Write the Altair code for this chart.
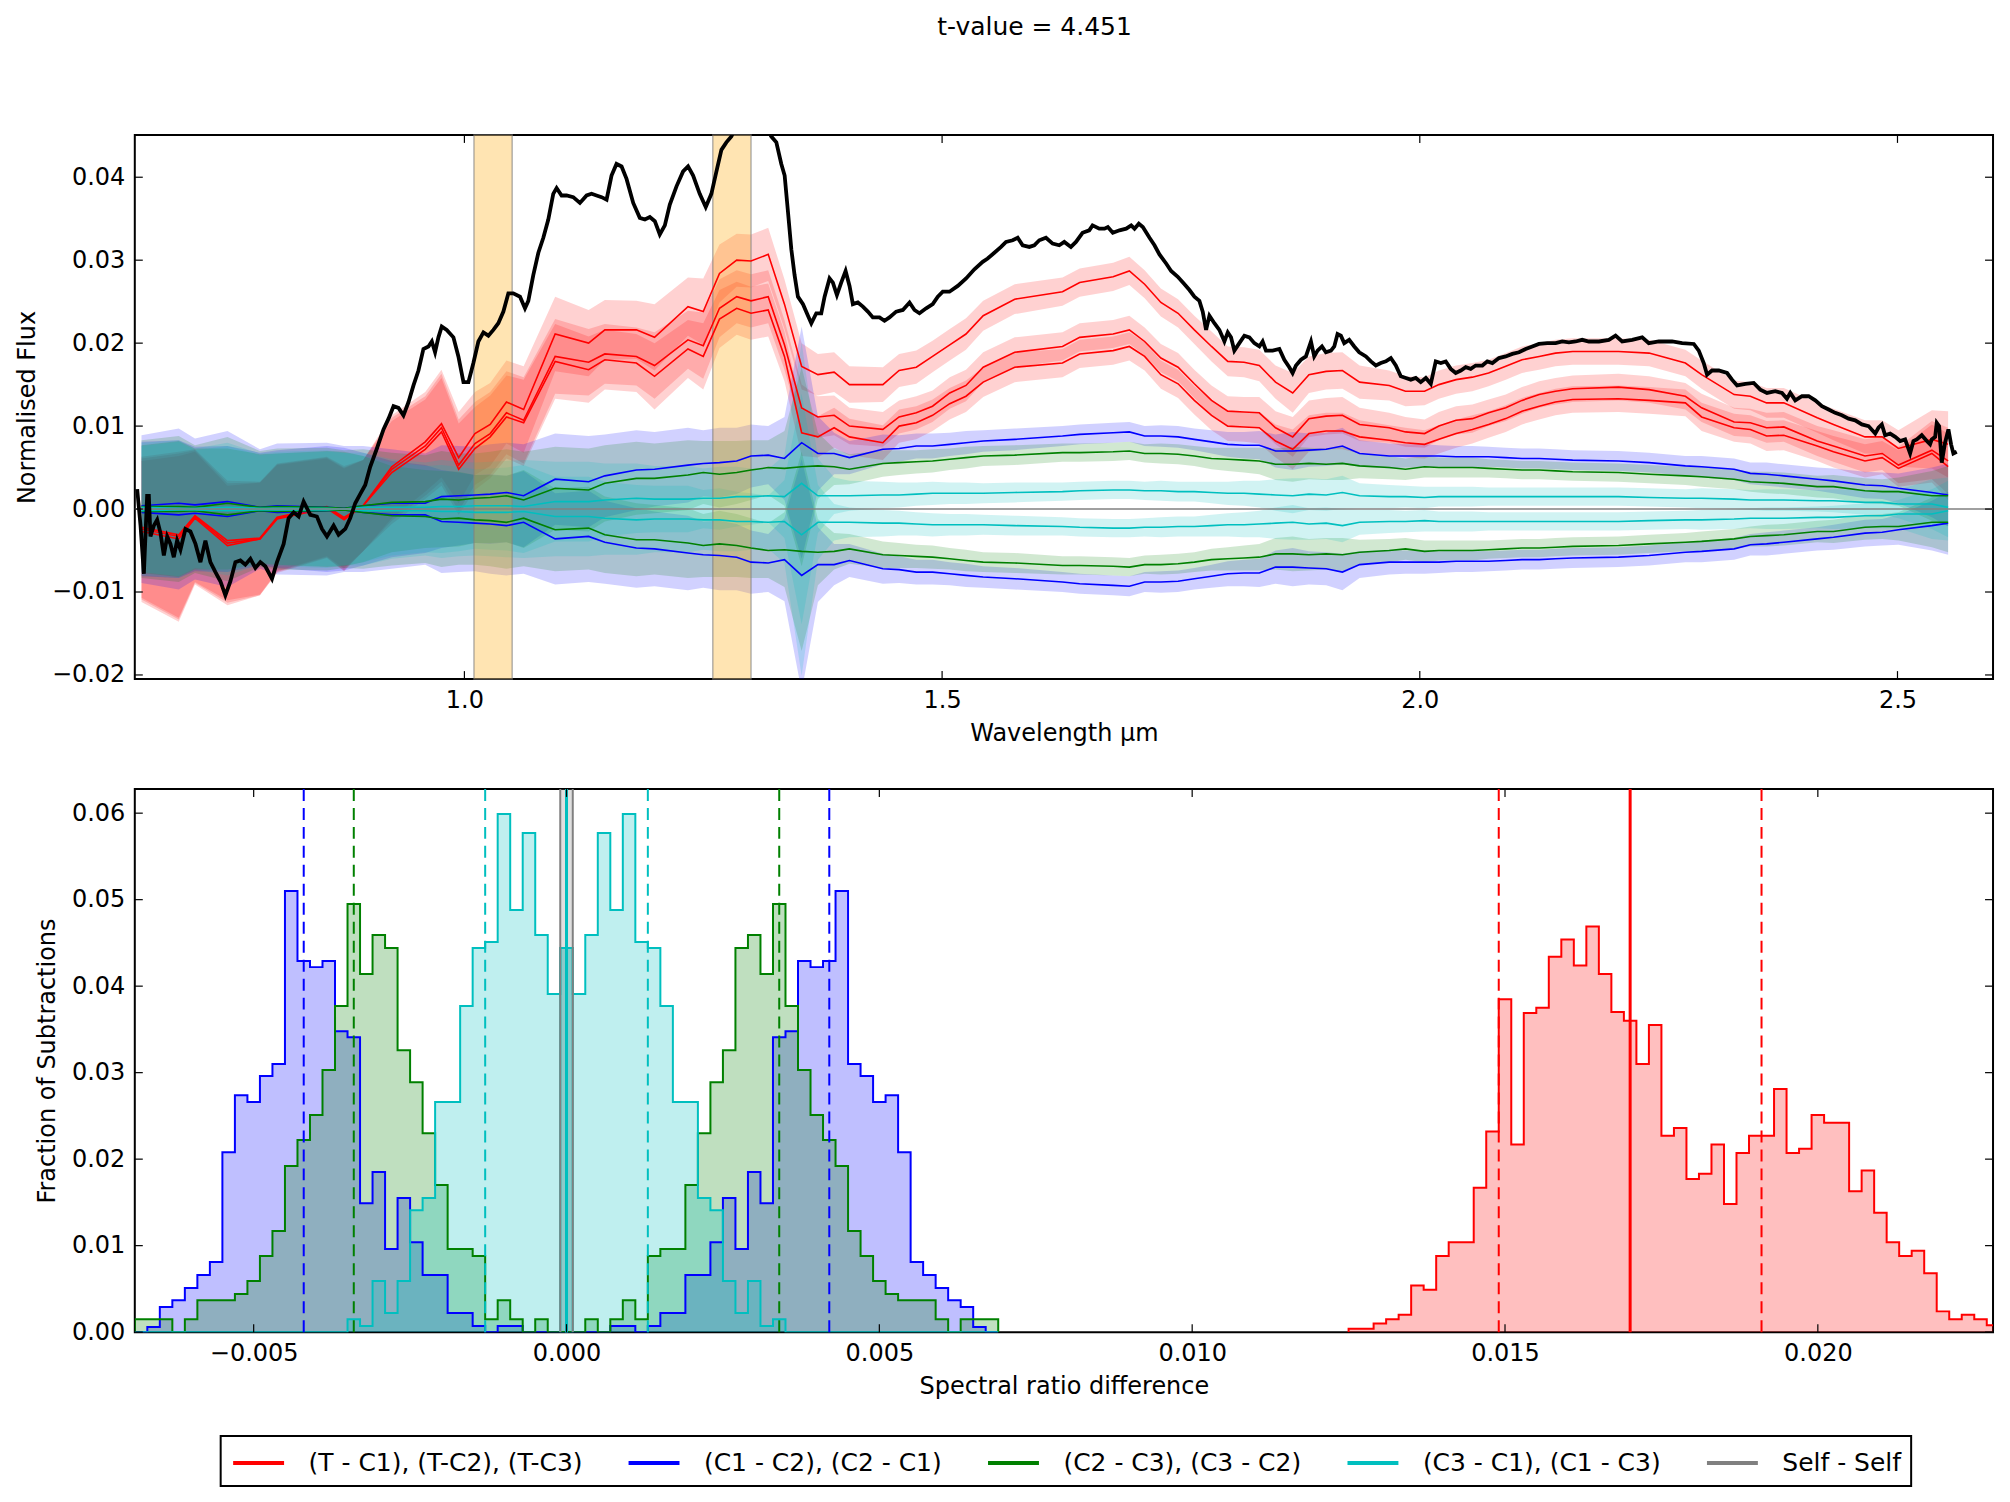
import altair as alt
import pandas as pd

FONT = "DejaVu Sans"
FS = 24
RED, BLUE, GREEN, CYAN, GREY = "#ff0000", "#0000ff", "#008000", "#00bfbf", "#808080"

# ---------------- observed target spectrum ----------------
spec_wl = [
    0.6575, 0.6610, 0.6645, 0.6679, 0.6697, 0.6714, 0.6749, 0.6784, 0.6819, 0.6854,
    0.6889, 0.6923, 0.6958, 0.6993, 0.7028, 0.7080, 0.7132, 0.7185, 0.7237, 0.7289,
    0.7341, 0.7394, 0.7446, 0.7498, 0.7551, 0.7603, 0.7655, 0.7707, 0.7760, 0.7812,
    0.7864, 0.7916, 0.7986, 0.8038, 0.8108, 0.8160, 0.8213, 0.8265, 0.8317, 0.8387,
    0.8456, 0.8509, 0.8561, 0.8631, 0.8683, 0.8753, 0.8805, 0.8857, 0.8909, 0.8962,
    0.9014, 0.9084, 0.9153, 0.9206, 0.9258, 0.9310, 0.9362, 0.9415, 0.9467, 0.9519,
    0.9571, 0.9624, 0.9659, 0.9693, 0.9728, 0.9763, 0.9815, 0.9885, 0.9937, 0.9990,
    1.0042, 1.0094, 1.0146, 1.0199, 1.0251, 1.0303, 1.0355, 1.0408, 1.0460, 1.0512,
    1.0582, 1.0634, 1.0669, 1.0721, 1.0774, 1.0826, 1.0878, 1.0930, 1.0965, 1.1017,
    1.1070, 1.1139, 1.1209, 1.1279, 1.1331, 1.1383, 1.1436, 1.1488, 1.1540, 1.1592,
    1.1645, 1.1697, 1.1767, 1.1836, 1.1889, 1.1941, 1.1993, 1.2045, 1.2098, 1.2150,
    1.2220, 1.2289, 1.2341, 1.2394, 1.2463, 1.2526, 1.2585, 1.2638, 1.2690, 1.2742,
    1.2794, 1.2900, 1.3050, 1.3213, 1.3265, 1.3317, 1.3352, 1.3387, 1.3422, 1.3456,
    1.3491, 1.3544, 1.3596, 1.3631, 1.3683, 1.3735, 1.3770, 1.3822, 1.3857, 1.3899,
    1.3944, 1.3990, 1.4031, 1.4066, 1.4118, 1.4171, 1.4223, 1.4275, 1.4345, 1.4397,
    1.4449, 1.4519, 1.4589, 1.4659, 1.4711, 1.4763, 1.4833, 1.4902, 1.4955, 1.5007,
    1.5077, 1.5164, 1.5251, 1.5338, 1.5425, 1.5477, 1.5547, 1.5617, 1.5669, 1.5739,
    1.5791, 1.5843, 1.5913, 1.5965, 1.6017, 1.6087, 1.6157, 1.6226, 1.6279, 1.6348,
    1.6401, 1.6470, 1.6540, 1.6575, 1.6645, 1.6700, 1.6735, 1.6787, 1.6857, 1.6927,
    1.6979, 1.7014, 1.7059, 1.7101, 1.7171, 1.7223, 1.7275, 1.7345, 1.7397, 1.7467,
    1.7537, 1.7589, 1.7641, 1.7693, 1.7728, 1.7763, 1.7798, 1.7850, 1.7902, 1.7955,
    1.7990, 1.8024, 1.8059, 1.8111, 1.8164, 1.8216, 1.8268, 1.8321, 1.8355, 1.8390,
    1.8460, 1.8530, 1.8582, 1.8634, 1.8669, 1.8704, 1.8756, 1.8808, 1.8861, 1.8895,
    1.8930, 1.8976, 1.9017, 1.9070, 1.9105, 1.9139, 1.9174, 1.9209, 1.9261, 1.9314,
    1.9366, 1.9436, 1.9488, 1.9540, 1.9592, 1.9645, 1.9697, 1.9749, 1.9801, 1.9854,
    1.9906, 1.9958, 2.0010, 2.0063, 2.0115, 2.0167, 2.0220, 2.0272, 2.0324, 2.0376,
    2.0429, 2.0481, 2.0533, 2.0585, 2.0655, 2.0707, 2.0760, 2.0829, 2.0899, 2.0969,
    2.1038, 2.1108, 2.1178, 2.1247, 2.1334, 2.1422, 2.1491, 2.1561, 2.1631, 2.1700,
    2.1770, 2.1875, 2.1979, 2.2049, 2.2118, 2.2223, 2.2328, 2.2397, 2.2502, 2.2641,
    2.2746, 2.2868, 2.2920, 2.2972, 2.3007, 2.3059, 2.3129, 2.3216, 2.3268, 2.3321,
    2.3408, 2.3495, 2.3564, 2.3634, 2.3721, 2.3791, 2.3843, 2.3878, 2.3930, 2.4000,
    2.4070, 2.4139, 2.4209, 2.4279, 2.4348, 2.4418, 2.4488, 2.4557, 2.4627, 2.4697,
    2.4767, 2.4801, 2.4836, 2.4871, 2.4923, 2.4976, 2.5028, 2.5080, 2.5132, 2.5167,
    2.5202, 2.5254, 2.5307, 2.5341, 2.5359, 2.5394, 2.5411, 2.5436, 2.5463, 2.5498,
    2.5533, 2.5561, 2.5585, 2.5620,
]
spec_flux = [
    0.0024, -0.0020, -0.0078, 0.0016, 0.0016, -0.0033, -0.0020, -0.0013, -0.0029, -0.0056,
    -0.0033, -0.0042, -0.0058, -0.0038, -0.0049, -0.0024, -0.0027, -0.0042, -0.0064, -0.0038,
    -0.0064, -0.0076, -0.0087, -0.0104, -0.0087, -0.0064, -0.0062, -0.0067, -0.0060, -0.0071,
    -0.0064, -0.0069, -0.0084, -0.0064, -0.0042, -0.0011, -0.0004, -0.0009, 0.0009, -0.0007,
    -0.0009, -0.0024, -0.0033, -0.0020, -0.0031, -0.0024, -0.0011, 0.0007, 0.0018, 0.0029,
    0.0051, 0.0073, 0.0096, 0.0109, 0.0124, 0.0122, 0.0113, 0.0129, 0.0149, 0.0167,
    0.0193, 0.0196, 0.0202, 0.0189, 0.0207, 0.0220, 0.0216, 0.0207, 0.0184, 0.0153,
    0.0153, 0.0176, 0.0202, 0.0213, 0.0209, 0.0216, 0.0224, 0.0238, 0.0260, 0.0260,
    0.0256, 0.0242, 0.0251, 0.0282, 0.0309, 0.0327, 0.0349, 0.0380, 0.0387, 0.0378,
    0.0378, 0.0376, 0.0369, 0.0378, 0.0380, 0.0378, 0.0376, 0.0373, 0.0402, 0.0416,
    0.0413, 0.0398, 0.0369, 0.0351, 0.0349, 0.0352, 0.0347, 0.0331, 0.0342, 0.0367,
    0.0389, 0.0407, 0.0413, 0.0402, 0.0380, 0.0364, 0.0380, 0.0407, 0.0433, 0.0442,
    0.0449, 0.0475, 0.0480, 0.0449, 0.0442, 0.0416, 0.0402, 0.0358, 0.0313, 0.0282,
    0.0256, 0.0247, 0.0233, 0.0224, 0.0236, 0.0236, 0.0256, 0.0278, 0.0273, 0.0258,
    0.0273, 0.0287, 0.0269, 0.0247, 0.0249, 0.0244, 0.0238, 0.0231, 0.0231, 0.0227,
    0.0231, 0.0238, 0.0240, 0.0249, 0.0240, 0.0236, 0.0242, 0.0247, 0.0256, 0.0262,
    0.0262, 0.0269, 0.0278, 0.0289, 0.0298, 0.0302, 0.0309, 0.0316, 0.0322, 0.0324,
    0.0327, 0.0318, 0.0316, 0.0318, 0.0324, 0.0327, 0.0320, 0.0318, 0.0322, 0.0316,
    0.0322, 0.0333, 0.0336, 0.0342, 0.0338, 0.0338, 0.0340, 0.0333, 0.0336, 0.0338,
    0.0342, 0.0338, 0.0344, 0.0340, 0.0327, 0.0318, 0.0307, 0.0296, 0.0287, 0.0280,
    0.0271, 0.0264, 0.0256, 0.0251, 0.0238, 0.0216, 0.0233, 0.0224, 0.0216, 0.0202,
    0.0213, 0.0207, 0.0191, 0.0200, 0.0209, 0.0207, 0.0200, 0.0196, 0.0202, 0.0191,
    0.0191, 0.0193, 0.0180, 0.0171, 0.0164, 0.0173, 0.0180, 0.0184, 0.0202, 0.0184,
    0.0191, 0.0196, 0.0189, 0.0191, 0.0196, 0.0211, 0.0209, 0.0200, 0.0204, 0.0196,
    0.0189, 0.0184, 0.0178, 0.0173, 0.0176, 0.0178, 0.0182, 0.0173, 0.0160, 0.0158,
    0.0156, 0.0158, 0.0153, 0.0158, 0.0151, 0.0178, 0.0176, 0.0178, 0.0169, 0.0164,
    0.0167, 0.0171, 0.0169, 0.0173, 0.0173, 0.0178, 0.0176, 0.0182, 0.0184, 0.0187,
    0.0189, 0.0193, 0.0196, 0.0199, 0.0200, 0.0200, 0.0202, 0.0201, 0.0202, 0.0204,
    0.0202, 0.0202, 0.0204, 0.0209, 0.0202, 0.0204, 0.0207, 0.0200, 0.0202, 0.0202,
    0.0200, 0.0199, 0.0191, 0.0176, 0.0162, 0.0167, 0.0167, 0.0164, 0.0156, 0.0149,
    0.0151, 0.0152, 0.0144, 0.0140, 0.0142, 0.0140, 0.0133, 0.0140, 0.0131, 0.0136,
    0.0136, 0.0131, 0.0124, 0.0120, 0.0116, 0.0113, 0.0109, 0.0107, 0.0102, 0.0100,
    0.0091, 0.0098, 0.0102, 0.0089, 0.0091, 0.0087, 0.0082, 0.0084, 0.0067, 0.0082,
    0.0084, 0.0089, 0.0082, 0.0078, 0.0084, 0.0087, 0.0104, 0.0100, 0.0056, 0.0080,
    0.0096, 0.0078, 0.0067, 0.0069,
]

# ---------------- binned subtraction curves ----------------
grid_wl = [
    0.662, 0.701, 0.718, 0.752, 0.786, 0.804, 0.856, 0.874, 0.894, 0.924,
    0.959, 0.976, 0.994, 1.011, 1.027, 1.044, 1.062, 1.095, 1.130, 1.147,
    1.180, 1.199, 1.234, 1.250, 1.267, 1.285, 1.300, 1.318, 1.335, 1.353,
    1.370, 1.387, 1.403, 1.438, 1.455, 1.473, 1.490, 1.508, 1.525, 1.543,
    1.576, 1.626, 1.644,
    1.679, 1.696, 1.712, 1.729, 1.747, 1.764, 1.782, 1.799, 1.816, 1.832,
    1.849, 1.867, 1.884, 1.902, 1.919, 1.937, 1.968, 1.985, 2.005, 2.020,
    2.038, 2.055, 2.072, 2.090, 2.107, 2.125, 2.142, 2.160,
    2.208, 2.240, 2.278, 2.295, 2.329, 2.346, 2.363, 2.381, 2.416, 2.433,
    2.466, 2.484, 2.501, 2.536, 2.553,
]
t_minus_c1 = [
    -0.0022, -0.0031, -0.0008, -0.0038, -0.0035, -0.0010, 0.0003, -0.0010, 0.0004, 0.0051,
    0.0081, 0.0103, 0.0062, 0.0091, 0.0102, 0.0129, 0.0120, 0.0211, 0.0200, 0.0216,
    0.0216, 0.0207, 0.0244, 0.0238, 0.0284, 0.0300, 0.0299, 0.0307, 0.0247, 0.0172,
    0.0162, 0.0165, 0.0150, 0.0150, 0.0167, 0.0171, 0.0184, 0.0198, 0.0211, 0.0233,
    0.0253, 0.0262, 0.0273,
    0.0280, 0.0287, 0.0271, 0.0249, 0.0236, 0.0216, 0.0196, 0.0178, 0.0177, 0.0173,
    0.0153, 0.0140, 0.0162, 0.0166, 0.0167, 0.0153, 0.0149, 0.0142, 0.0142, 0.0150,
    0.0156, 0.0159, 0.0164, 0.0172, 0.0180, 0.0184, 0.0188, 0.0190,
    0.0190, 0.0188, 0.0176, 0.0162, 0.0138, 0.0136, 0.0128, 0.0128, 0.0110, 0.0102,
    0.0087, 0.0087, 0.0073, 0.0084, 0.0078,
]
t_minus_c2 = [
    -0.0024, -0.0033, -0.0009, -0.0041, -0.0036, -0.0011, 0.0002, -0.0012, 0.0004, 0.0048,
    0.0076, 0.0098, 0.0053, 0.0079, 0.0091, 0.0116, 0.0107, 0.0184, 0.0177, 0.0187,
    0.0184, 0.0173, 0.0204, 0.0197, 0.0242, 0.0256, 0.0251, 0.0256, 0.0198, 0.0122,
    0.0111, 0.0113, 0.0100, 0.0096, 0.0111, 0.0116, 0.0124, 0.0140, 0.0149, 0.0171,
    0.0189, 0.0196, 0.0207,
    0.0211, 0.0216, 0.0202, 0.0182, 0.0171, 0.0151, 0.0131, 0.0118, 0.0117, 0.0116,
    0.0098, 0.0087, 0.0109, 0.0112, 0.0113, 0.0102, 0.0098, 0.0093, 0.0091, 0.0100,
    0.0107, 0.0109, 0.0116, 0.0122, 0.0131, 0.0138, 0.0142, 0.0145,
    0.0147, 0.0144, 0.0136, 0.0122, 0.0105, 0.0104, 0.0098, 0.0099, 0.0082, 0.0076,
    0.0064, 0.0067, 0.0053, 0.0071, 0.0058,
]
t_minus_c3 = [
    -0.0027, -0.0036, -0.0011, -0.0044, -0.0036, -0.0012, 0.0001, -0.0013, 0.0004, 0.0044,
    0.0072, 0.0093, 0.0048, 0.0073, 0.0087, 0.0111, 0.0104, 0.0178, 0.0168, 0.0180,
    0.0176, 0.0160, 0.0193, 0.0184, 0.0229, 0.0242, 0.0236, 0.0240, 0.0184, 0.0092,
    0.0087, 0.0098, 0.0087, 0.0080, 0.0100, 0.0104, 0.0113, 0.0127, 0.0136, 0.0153,
    0.0171, 0.0176, 0.0187,
    0.0191, 0.0196, 0.0184, 0.0162, 0.0151, 0.0131, 0.0113, 0.0100, 0.0099, 0.0098,
    0.0082, 0.0072, 0.0091, 0.0094, 0.0094, 0.0087, 0.0083, 0.0080, 0.0078, 0.0084,
    0.0091, 0.0096, 0.0102, 0.0109, 0.0118, 0.0124, 0.0129, 0.0132,
    0.0133, 0.0131, 0.0128, 0.0111, 0.0098, 0.0096, 0.0088, 0.0089, 0.0076, 0.0069,
    0.0058, 0.0062, 0.0049, 0.0067, 0.0051,
]
t_err = [
    0.0085, 0.0100, 0.0080, 0.0072, 0.0068, 0.0065, 0.0060, 0.0062, 0.0055, 0.0062,
    0.0060, 0.0065, 0.0055, 0.0050, 0.0050, 0.0050, 0.0052, 0.0045, 0.0040, 0.0036,
    0.0035, 0.0040, 0.0035, 0.0040, 0.0035, 0.0032, 0.0032, 0.0032, 0.0030, 0.0028,
    0.0025, 0.0024, 0.0022, 0.0021, 0.0020, 0.0020, 0.0019, 0.0019, 0.0019, 0.0018,
    0.0018, 0.0017, 0.0017,
    0.0017, 0.0017, 0.0017, 0.0017, 0.0017, 0.0017, 0.0018, 0.0018, 0.0018, 0.0019,
    0.0020, 0.0024, 0.0022, 0.0022, 0.0022, 0.0020, 0.0018, 0.0018, 0.0017, 0.0017,
    0.0017, 0.0017, 0.0016, 0.0016, 0.0016, 0.0016, 0.0016, 0.0016,
    0.0016, 0.0016, 0.0016, 0.0017, 0.0017, 0.0017, 0.0018, 0.0018, 0.0018, 0.0019,
    0.0020, 0.0020, 0.0022, 0.0035, 0.0040,
]
# control-star pairs: (C1 - C2) is the mirror image of (C2 - C1), etc.
c1_minus_c2 = [
    0.0004, 0.0007, 0.0005, 0.0009, 0.0002, 0.0004, 0.0002, 0.0001, 0.0004, 0.0007,
    0.0007, 0.0015, 0.0016, 0.0017, 0.0018, 0.0020, 0.0016, 0.0036, 0.0033, 0.0040,
    0.0047, 0.0048, 0.0053, 0.0055, 0.0056, 0.0058, 0.0064, 0.0065, 0.0061, 0.0080,
    0.0067, 0.0067, 0.0062, 0.0072, 0.0073, 0.0076, 0.0076, 0.0078, 0.0080, 0.0082,
    0.0084, 0.0088, 0.0090,
    0.0092, 0.0093, 0.0088, 0.0088, 0.0087, 0.0084, 0.0081, 0.0078, 0.0077, 0.0077,
    0.0070, 0.0070, 0.0071, 0.0072, 0.0076, 0.0067, 0.0064, 0.0064, 0.0064, 0.0064,
    0.0063, 0.0063, 0.0063, 0.0062, 0.0061, 0.0061, 0.0060, 0.0059,
    0.0058, 0.0056, 0.0052, 0.0051, 0.0048, 0.0043, 0.0042, 0.0040, 0.0036, 0.0034,
    0.0029, 0.0028, 0.0025, 0.0020, 0.0017,
]
c1_c2_err = [
    0.0085, 0.0090, 0.0080, 0.0085, 0.0070, 0.0075, 0.0078, 0.0075, 0.0072, 0.0065,
    0.0060, 0.0062, 0.0060, 0.0058, 0.0060, 0.0060, 0.0062, 0.0055, 0.0055, 0.0050,
    0.0048, 0.0045, 0.0045, 0.0040, 0.0042, 0.0040, 0.0038, 0.0035, 0.0050, 0.0140,
    0.0045, 0.0025, 0.0020, 0.0018, 0.0016, 0.0015, 0.0015, 0.0014, 0.0014, 0.0013,
    0.0013, 0.0012, 0.0012,
    0.0012, 0.0012, 0.0012, 0.0013, 0.0013, 0.0013, 0.0014, 0.0015, 0.0016, 0.0017,
    0.0020, 0.0023, 0.0020, 0.0020, 0.0022, 0.0016, 0.0015, 0.0014, 0.0014, 0.0013,
    0.0013, 0.0013, 0.0012, 0.0012, 0.0012, 0.0012, 0.0012, 0.0012,
    0.0012, 0.0012, 0.0012, 0.0013, 0.0013, 0.0013, 0.0014, 0.0014, 0.0014, 0.0015,
    0.0016, 0.0016, 0.0018, 0.0030, 0.0038,
]
c2_minus_c3 = [
    0.0003, 0.0003, 0.0002, 0.0007, 0.0002, 0.0003, 0.0002, 0.0001, 0.0004, 0.0008,
    0.0009, 0.0012, 0.0011, 0.0013, 0.0014, 0.0016, 0.0011, 0.0025, 0.0023, 0.0031,
    0.0037, 0.0037, 0.0041, 0.0044, 0.0042, 0.0044, 0.0047, 0.0050, 0.0049, 0.0051,
    0.0052, 0.0051, 0.0048, 0.0055, 0.0056, 0.0057, 0.0058, 0.0060, 0.0062, 0.0064,
    0.0065, 0.0068, 0.0068,
    0.0069, 0.0070, 0.0067, 0.0067, 0.0066, 0.0064, 0.0061, 0.0060, 0.0059, 0.0058,
    0.0054, 0.0054, 0.0055, 0.0054, 0.0055, 0.0052, 0.0050, 0.0048, 0.0051, 0.0050,
    0.0050, 0.0050, 0.0049, 0.0048, 0.0047, 0.0047, 0.0046, 0.0045,
    0.0044, 0.0042, 0.0040, 0.0039, 0.0036, 0.0033, 0.0032, 0.0031, 0.0027, 0.0027,
    0.0022, 0.0021, 0.0021, 0.0016, 0.0016,
]
c2_c3_err = [
    0.0080, 0.0085, 0.0075, 0.0080, 0.0068, 0.0070, 0.0072, 0.0070, 0.0068, 0.0060,
    0.0056, 0.0058, 0.0056, 0.0054, 0.0055, 0.0056, 0.0058, 0.0050, 0.0050, 0.0046,
    0.0044, 0.0042, 0.0042, 0.0038, 0.0040, 0.0038, 0.0036, 0.0033, 0.0045, 0.0120,
    0.0040, 0.0022, 0.0018, 0.0016, 0.0015, 0.0014, 0.0014, 0.0013, 0.0013, 0.0012,
    0.0012, 0.0011, 0.0011,
    0.0011, 0.0011, 0.0011, 0.0012, 0.0012, 0.0012, 0.0013, 0.0014, 0.0015, 0.0016,
    0.0019, 0.0021, 0.0019, 0.0019, 0.0020, 0.0015, 0.0014, 0.0013, 0.0013, 0.0012,
    0.0012, 0.0012, 0.0011, 0.0011, 0.0011, 0.0011, 0.0011, 0.0011,
    0.0011, 0.0011, 0.0011, 0.0012, 0.0012, 0.0012, 0.0013, 0.0013, 0.0013, 0.0014,
    0.0015, 0.0015, 0.0017, 0.0030, 0.0036,
]
c3_minus_c1 = [
    0.0002, 0.0001, 0.0001, 0.0002, 0.0001, 0.0001, 0.0001, 0.0000, 0.0002, 0.0002,
    0.0002, 0.0003, 0.0003, 0.0004, 0.0004, 0.0004, 0.0003, 0.0009, 0.0009, 0.0011,
    0.0013, 0.0012, 0.0012, 0.0013, 0.0013, 0.0015, 0.0015, 0.0016, 0.0015, 0.0031,
    0.0016, 0.0016, 0.0016, 0.0017, 0.0017, 0.0018, 0.0019, 0.0019, 0.0019, 0.0019,
    0.0020, 0.0021, 0.0022,
    0.0023, 0.0023, 0.0022, 0.0022, 0.0021, 0.0021, 0.0020, 0.0019, 0.0019, 0.0018,
    0.0017, 0.0016, 0.0018, 0.0017, 0.0020, 0.0016, 0.0015, 0.0015, 0.0014, 0.0015,
    0.0015, 0.0015, 0.0015, 0.0015, 0.0015, 0.0015, 0.0015, 0.0015,
    0.0015, 0.0014, 0.0013, 0.0013, 0.0012, 0.0011, 0.0011, 0.0011, 0.0010, 0.0010,
    0.0008, 0.0008, 0.0006, 0.0006, 0.0002,
]
c3_c1_err = [
    0.0078, 0.0082, 0.0072, 0.0078, 0.0066, 0.0068, 0.0070, 0.0068, 0.0066, 0.0058,
    0.0054, 0.0056, 0.0054, 0.0052, 0.0053, 0.0054, 0.0056, 0.0048, 0.0048, 0.0044,
    0.0042, 0.0040, 0.0040, 0.0036, 0.0038, 0.0036, 0.0034, 0.0032, 0.0050, 0.0170,
    0.0045, 0.0022, 0.0018, 0.0016, 0.0015, 0.0014, 0.0014, 0.0013, 0.0013, 0.0012,
    0.0012, 0.0011, 0.0011,
    0.0011, 0.0011, 0.0011, 0.0012, 0.0012, 0.0012, 0.0013, 0.0014, 0.0015, 0.0016,
    0.0019, 0.0021, 0.0019, 0.0019, 0.0020, 0.0015, 0.0014, 0.0013, 0.0013, 0.0012,
    0.0012, 0.0012, 0.0011, 0.0011, 0.0011, 0.0011, 0.0011, 0.0011,
    0.0011, 0.0011, 0.0011, 0.0012, 0.0012, 0.0012, 0.0013, 0.0013, 0.0013, 0.0014,
    0.0015, 0.0015, 0.0017, 0.0030, 0.0036,
]

# wavelength windows used for the spectral ratio
window_start = [1.01, 1.26]
window_end = [1.05, 1.30]

# ---------------- ratio-difference histograms ----------------
ctrl_edges = [
    -0.0069, -0.0067, -0.0065, -0.0063, -0.0061, -0.0059, -0.0057, -0.0055, -0.0053,
    -0.0051, -0.0049, -0.0047, -0.0045, -0.0043, -0.0041, -0.0039, -0.0037, -0.0035,
    -0.0033, -0.0031, -0.0029, -0.0027, -0.0025, -0.0023, -0.0021, -0.0019, -0.0017,
    -0.0015, -0.0013, -0.0011, -0.0009, -0.0007, -0.0005, -0.0003, -0.0001, 0.0001,
]
hist_c1_c2 = [
    0.0, 0.0006, 0.0029, 0.0037, 0.0051, 0.0066, 0.0081, 0.0208, 0.0274, 0.0266,
    0.0296, 0.0310, 0.0510, 0.0429, 0.0422, 0.0429, 0.0348, 0.0341, 0.0149, 0.0185,
    0.0096, 0.0155, 0.0104, 0.0066, 0.0066, 0.0022, 0.0022, 0.0007, 0.0, 0.0007,
    0.0007, 0.0, 0.0, 0.0, 0.0,
]
hist_c2_c3 = [
    0.0015, 0.0015, 0.0015, 0.0, 0.0015, 0.0037, 0.0037, 0.0037, 0.0044, 0.0059,
    0.0088, 0.0117, 0.0192, 0.0222, 0.0251, 0.0303, 0.0377, 0.0495, 0.0414, 0.0459,
    0.0444, 0.0326, 0.0289, 0.0230, 0.0170, 0.0096, 0.0096, 0.0088, 0.0015, 0.0037,
    0.0015, 0.0, 0.0015, 0.0, 0.0,
]
hist_c3_c1 = [
    0.0, 0.0, 0.0, 0.0, 0.0, 0.0, 0.0, 0.0, 0.0, 0.0,
    0.0, 0.0, 0.0, 0.0, 0.0, 0.0, 0.0, 0.0015, 0.0007, 0.0059,
    0.0022, 0.0059, 0.0141, 0.0155, 0.0266, 0.0266, 0.0377, 0.0444, 0.0451, 0.0599,
    0.0488, 0.0577, 0.0459, 0.0391, 0.0444,
]
target_edges = [
    0.0125, 0.0127, 0.0129, 0.0131, 0.0133, 0.0135, 0.0137, 0.0139, 0.0141, 0.0143,
    0.0145, 0.0147, 0.0149, 0.0151, 0.0153, 0.0155, 0.0157, 0.0159, 0.0161, 0.0163,
    0.0165, 0.0167, 0.0169, 0.0171, 0.0173, 0.0175, 0.0177, 0.0179, 0.0181, 0.0183,
    0.0185, 0.0187, 0.0189, 0.0191, 0.0193, 0.0195, 0.0197, 0.0199, 0.0201, 0.0203,
    0.0205, 0.0207, 0.0209, 0.0211, 0.0213, 0.0215, 0.0217, 0.0219, 0.0221, 0.0223,
    0.0225, 0.0227, 0.0229,
]
hist_target = [
    0.0004, 0.0004, 0.0010, 0.0015, 0.0020, 0.0054, 0.0049, 0.0088, 0.0104, 0.0104,
    0.0167, 0.0232, 0.0385, 0.0217, 0.0369, 0.0375, 0.0434, 0.0454, 0.0424, 0.0469,
    0.0414, 0.0370, 0.0360, 0.0310, 0.0355, 0.0227, 0.0236, 0.0177, 0.0183, 0.0217,
    0.0148, 0.0207, 0.0227, 0.0227, 0.0281, 0.0207, 0.0212, 0.0251, 0.0242, 0.0242,
    0.0163, 0.0187, 0.0138, 0.0104, 0.0088, 0.0094, 0.0068, 0.0024, 0.0015, 0.0020,
    0.0015, 0.0008,
]
self_edges = [-0.0001, 0.0001]
hist_self = [1.0]

# mean and one-sigma markers
target_mean = 0.0170
target_sigma = [0.0149, 0.0191]
c1_c2_sigma = 0.0042
c2_c3_sigma = 0.0034
c3_c1_sigma = 0.0013

legend_labels = [
    "(T - C1), (T-C2), (T-C3)",
    "(C1 - C2), (C2 - C1)",
    "(C2 - C3), (C3 - C2)",
    "(C3 - C1), (C1 - C3)",
    "Self - Self",
]
legend_colors = [RED, BLUE, GREEN, CYAN, GREY]

# ---------------- layout ----------------
W = 1861
H_TOP = 545
H_BOT = 544
TICK = 8

top_x_scale = alt.Scale(domain=[0.655, 2.600], nice=False, zero=False)
top_y_scale = alt.Scale(domain=[-0.0205, 0.0451], nice=False, zero=False)
bot_x_scale = alt.Scale(domain=[-0.0069, 0.0228], nice=False, zero=False)
bot_y_scale = alt.Scale(domain=[0.0, 0.0628], nice=False, zero=False)

top_x_ticks = [1.0, 1.5, 2.0, 2.5]
top_y_ticks = [-0.02, -0.01, 0.0, 0.01, 0.02, 0.03, 0.04]
bot_x_ticks = [-0.005, 0.0, 0.005, 0.010, 0.015, 0.020]
bot_y_ticks = [0.0, 0.01, 0.02, 0.03, 0.04, 0.05, 0.06]

axis_style = dict(
    domain=False, ticks=False, grid=False, labelFlush=False, labelOverlap=False,
    labelFont=FONT, labelFontSize=FS, labelColor="black",
    titleFont=FONT, titleFontSize=FS, titleFontWeight="normal", titleColor="black",
)
top_x_axis = alt.Axis(values=top_x_ticks, format=".1f", title="Wavelength μm",
                      labelPadding=9, titlePadding=9, **axis_style)
top_y_axis = alt.Axis(values=top_y_ticks, format=".2f", title="Normalised Flux",
                      labelPadding=10, titlePadding=12, **axis_style)
bot_x_axis = alt.Axis(values=bot_x_ticks, format=".3f", title="Spectral ratio difference",
                      labelPadding=9, titlePadding=9, **axis_style)
bot_y_axis = alt.Axis(values=bot_y_ticks, format=".2f", title="Fraction of Subtractions",
                      labelPadding=10, titlePadding=12, **axis_style)


def tx(field):
    return alt.X(field, type="quantitative", scale=top_x_scale, axis=top_x_axis)


def ty(field):
    return alt.Y(field, type="quantitative", scale=top_y_scale, axis=top_y_axis)


def bx(field):
    return alt.X(field, type="quantitative", scale=bot_x_scale, axis=bot_x_axis)


def by(field):
    return alt.Y(field, type="quantitative", scale=bot_y_scale, axis=bot_y_axis)


def curve_frame(pairs):
    rows = []
    for name, centre, err, sign in pairs:
        for w, c, e in zip(grid_wl, centre, err):
            v = sign * c
            rows.append({"wl": w, "val": v, "lo": v - e, "hi": v + e, "series": name})
    return pd.DataFrame(rows)


curve_groups = [
    (RED, [("T-C1", t_minus_c1, t_err, 1), ("T-C2", t_minus_c2, t_err, 1),
           ("T-C3", t_minus_c3, t_err, 1)]),
    (BLUE, [("C1-C2", c1_minus_c2, c1_c2_err, 1), ("C2-C1", c1_minus_c2, c1_c2_err, -1)]),
    (GREEN, [("C2-C3", c2_minus_c3, c2_c3_err, 1), ("C3-C2", c2_minus_c3, c2_c3_err, -1)]),
    (CYAN, [("C3-C1", c3_minus_c1, c3_c1_err, 1), ("C1-C3", c3_minus_c1, c3_c1_err, -1)]),
]

band_layers, line_layers = [], []
for colour, pairs in curve_groups:
    df = curve_frame(pairs)
    band_layers.append(
        alt.Chart(df).mark_area(color=colour, opacity=0.18, clip=True).encode(
            x=tx("wl"), y=ty("lo"), y2="hi:Q", detail="series:N"))
    line_layers.append(
        alt.Chart(df).mark_line(color=colour, strokeWidth=1.6, clip=True).encode(
            x=tx("wl"), y=ty("val"), detail="series:N"))

windows = alt.Chart(pd.DataFrame({"a": window_start, "b": window_end})).mark_rect(
    fill="orange", fillOpacity=0.3, stroke=GREY, strokeOpacity=0.6, strokeWidth=1.5
).encode(x=tx("a"), x2="b:Q", y=alt.value(0), y2=alt.value(H_TOP))

zero_line = alt.Chart(pd.DataFrame({"z": [0.0]})).mark_rule(
    color=GREY, strokeWidth=1.5).encode(y=ty("z"))

spectrum = alt.Chart(pd.DataFrame({"wl": spec_wl, "flux": spec_flux})).mark_line(
    color="black", strokeWidth=3.8, clip=True).encode(x=tx("wl"), y=ty("flux"))


def inward_ticks(xvals, yvals, xenc, yenc, height):
    dx = pd.DataFrame({"v": xvals})
    dy = pd.DataFrame({"v": yvals})
    style = dict(color="black", strokeWidth=1.2)
    return [
        alt.Chart(dx).mark_rule(**style).encode(x=xenc("v"), y=alt.value(height), y2=alt.value(height - TICK)),
        alt.Chart(dx).mark_rule(**style).encode(x=xenc("v"), y=alt.value(0), y2=alt.value(TICK)),
        alt.Chart(dy).mark_rule(**style).encode(y=yenc("v"), x=alt.value(0), x2=alt.value(TICK)),
        alt.Chart(dy).mark_rule(**style).encode(y=yenc("v"), x=alt.value(W), x2=alt.value(W - TICK)),
    ]


top = alt.layer(
    *band_layers, windows, *line_layers, zero_line, spectrum,
    *inward_ticks(top_x_ticks, top_y_ticks, tx, ty, H_TOP)
).properties(width=W, height=H_TOP)


# ---------------- histogram panel ----------------
def mirror(edges, heights):
    return [-e for e in edges[::-1]], heights[::-1]


def step_frames(edges, heights):
    fill = pd.DataFrame({"x": list(edges[:-1]) + [edges[-1]],
                         "h": list(heights) + [0.0]})
    xs = [edges[0]] + list(edges[:-1]) + [edges[-1]]
    hs = [0.0] + list(heights) + [0.0]
    outline = pd.DataFrame({"x": xs, "h": hs, "i": list(range(len(xs)))})
    return fill, outline


histograms = [(RED, target_edges, hist_target)]
for colour, heights in [(BLUE, hist_c1_c2), (GREEN, hist_c2_c3), (CYAN, hist_c3_c1)]:
    histograms.append((colour, ctrl_edges, heights))
    me, mh = mirror(ctrl_edges, heights)
    histograms.append((colour, me, mh))
histograms.append((GREY, self_edges, hist_self))

fill_layers, outline_layers = [], []
for colour, edges, heights in histograms:
    fill, outline = step_frames(edges, heights)
    fill_layers.append(
        alt.Chart(fill).mark_area(interpolate="step-after", color=colour, opacity=0.25,
                                  clip=True).encode(x=bx("x"), y=by("h")))
    outline_layers.append(
        alt.Chart(outline).mark_line(interpolate="step-after", color=colour, strokeWidth=2,
                                     clip=True).encode(x=bx("x"), y=by("h"), order="i:Q"))

dash_layers = []
for colour, vals in [(RED, target_sigma),
                     (BLUE, [-c1_c2_sigma, c1_c2_sigma]),
                     (GREEN, [-c2_c3_sigma, c2_c3_sigma]),
                     (CYAN, [-c3_c1_sigma, c3_c1_sigma])]:
    dash_layers.append(
        alt.Chart(pd.DataFrame({"v": vals})).mark_rule(
            color=colour, strokeWidth=2, strokeDash=[12, 7]).encode(x=bx("v")))

mean_df = pd.DataFrame({
    "pair": [legend_labels[4], legend_labels[1], legend_labels[2], legend_labels[3], legend_labels[0]],
    "v": [0.0, 0.0, 0.0, 0.0, target_mean],
})
mean_lines = alt.Chart(mean_df).mark_rule(strokeWidth=3).encode(
    x=bx("v"),
    color=alt.Color(
        "pair:N",
        scale=alt.Scale(domain=legend_labels, range=legend_colors),
        legend=alt.Legend(
            title=None, orient="none", legendX=86, legendY=648, direction="horizontal",
            columns=5, symbolType="M-1.7,0H1.7", symbolSize=900, symbolStrokeWidth=4,
            symbolOffset=11, symbolOpacity=1, labelFont=FONT, labelFontSize=25,
            labelColor="black", labelLimit=600, labelOffset=33, columnPadding=37,
            padding=10, strokeColor="black",
        ),
    ),
)

bottom = alt.layer(
    *fill_layers, *outline_layers, *dash_layers, mean_lines,
    *inward_ticks(bot_x_ticks, bot_y_ticks, bx, by, H_BOT)
).properties(width=W, height=H_BOT)

chart = alt.VConcatChart(
    vconcat=[top, bottom], spacing=110, bounds="flush",
    title=alt.TitleParams("t-value = 4.451", font=FONT, fontSize=25, fontWeight="normal",
                          color="black", anchor="middle", offset=93, dx=30),
    padding={"left": 14, "top": 14, "right": 15, "bottom": 15},
    background="white",
).resolve_scale(color="independent").resolve_legend(color="independent").configure_view(
    stroke="black", strokeWidth=2
).configure_legend(strokeWidth=2)

chart.save("out.html", embed_options={"renderer": "svg", "actions": False})
